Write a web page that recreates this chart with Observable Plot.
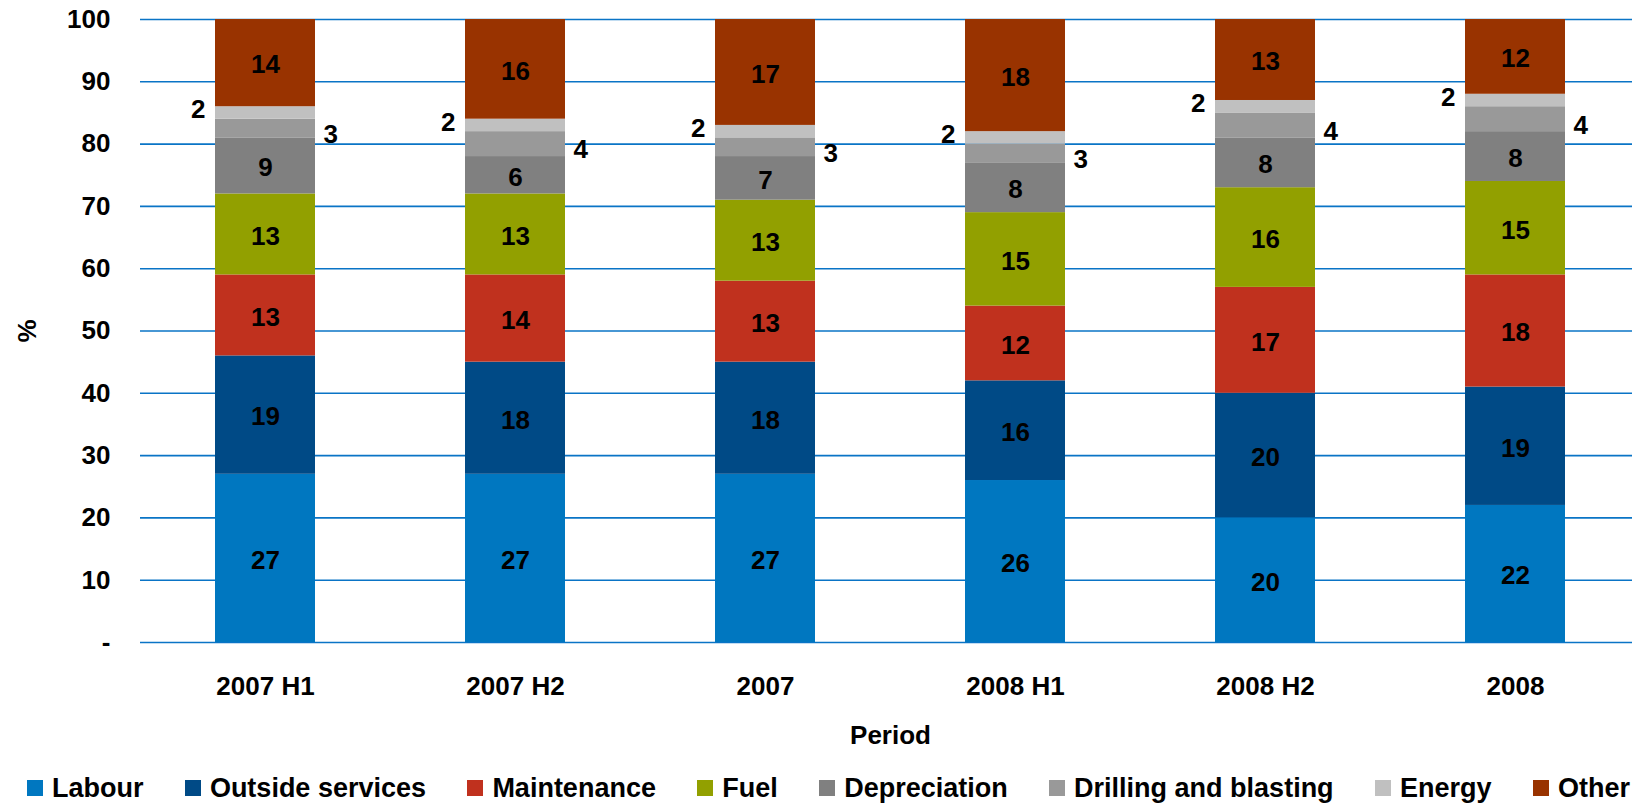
<!DOCTYPE html>
<html>
<head>
<meta charset="utf-8">
<script src="https://cdn.jsdelivr.net/npm/d3@7"></script>
<script src="https://cdn.jsdelivr.net/npm/@observablehq/plot@0.6"></script>
<style>
  html, body { margin: 0; padding: 0; background: #fff; }
  #chart { position: relative; width: 1632px; height: 803px; overflow: hidden;
           font-family: "Liberation Sans", Arial, sans-serif; }
  #legend { position: absolute; left: 27px; right: 2px; top: 773px; display: flex;
            justify-content: space-between; align-items: center; font-weight: bold;
            font-size: 27px; line-height: 30px; color: #000; }
  #legend .item { display: flex; align-items: center; white-space: nowrap; }
  #legend .sw { width: 16px; height: 16px; margin-right: 9px; }
</style>
</head>
<body>
<div id="chart"></div>
<script>
// Cost structure by period, % of total
const periods = ["2007 H1", "2007 H2", "2007", "2008 H1", "2008 H2", "2008"];
const seriesNames = ["Labour", "Outside services", "Maintenance", "Fuel", "Depreciation", "Drilling and blasting", "Energy", "Other"];
const seriesColors = ["#0077c0", "#004a86", "#c0311e", "#92a000", "#808080", "#999999", "#c0c0c0", "#993300"];

const labour           = [27, 27, 27, 26, 20, 22];
const outsideServices  = [19, 18, 18, 16, 20, 19];
const maintenance      = [13, 14, 13, 12, 17, 18];
const fuel             = [13, 13, 13, 15, 16, 15];
const depreciation     = [9, 6, 7, 8, 8, 8];
const drillingBlasting = [3, 4, 3, 3, 4, 4];
const energy           = [2, 2, 2, 2, 2, 2];
const other            = [14, 16, 17, 18, 13, 12];

const yTicks = [0, 10, 20, 30, 40, 50, 60, 70, 80, 90, 100];

// long-format rows for the stacked bars
const seriesValues = [labour, outsideServices, maintenance, fuel, depreciation, drillingBlasting, energy, other];
const rows = [];
seriesNames.forEach((s, i) => periods.forEach((p, j) => rows.push({period: p, series: s, value: seriesValues[i][j]})));

// thin segments are labelled beside the bar instead of inside it
const leftLabelled = "Energy";
const rightLabelled = "Drilling and blasting";
const stacked = (text, extra) => Plot.stackY({x: "period", y: "value", z: "series", order: seriesNames, text, ...extra});

const plot = Plot.plot({
  width: 1632,
  height: 760,
  marginTop: 19,
  marginBottom: 118,
  marginLeft: 140,
  marginRight: -8,
  style: {fontFamily: '"Liberation Sans", Arial, sans-serif', fontSize: "26px", fontWeight: "bold", color: "#000", background: "transparent"},
  x: {domain: periods, paddingInner: 0.6, paddingOuter: 0.3, label: null},
  y: {domain: [0, 100], label: null},
  color: {domain: seriesNames, range: seriesColors},
  marks: [
    Plot.gridY(yTicks, {stroke: "#0a74c6", strokeOpacity: 1, strokeWidth: 1.6}),
    Plot.barY(rows, {x: "period", y: "value", fill: "series", order: seriesNames}),
    Plot.text(rows, stacked(d => (d.series === leftLabelled || d.series === rightLabelled) ? "" : String(d.value),
      {fill: "#000", fontSize: 26, fontWeight: "bold", dy: 2})),
    Plot.text(rows, stacked(d => d.series === leftLabelled ? String(d.value) : "",
      {fill: "#000", fontSize: 26, fontWeight: "bold", textAnchor: "end", dx: -60, dy: -3})),
    Plot.text(rows, stacked(d => d.series === rightLabelled ? String(d.value) : "",
      {fill: "#000", fontSize: 26, fontWeight: "bold", textAnchor: "start", dx: 58, dy: 6})),
    Plot.axisY(yTicks, {tickSize: 0, tickPadding: 30, tickFormat: d => d === 0 ? "-" : String(d),
      label: "%", labelAnchor: "center", labelOffset: 123, labelArrow: "none", fontSize: 26}),
    Plot.axisX({tickSize: 0, tickPadding: 34, label: "Period", labelAnchor: "center", labelOffset: 101,
      labelArrow: "none", fontSize: 26})
  ]
});

const chart = document.getElementById("chart");
chart.appendChild(plot);

// legend row below the chart
const legend = d3.select(chart).append("div").attr("id", "legend");
const items = legend.selectAll(".item").data(seriesNames).join("div").attr("class", "item");
items.append("span").attr("class", "sw").style("background", (d, i) => seriesColors[i]);
items.append("span").text(d => d);
</script>
</body>
</html>
